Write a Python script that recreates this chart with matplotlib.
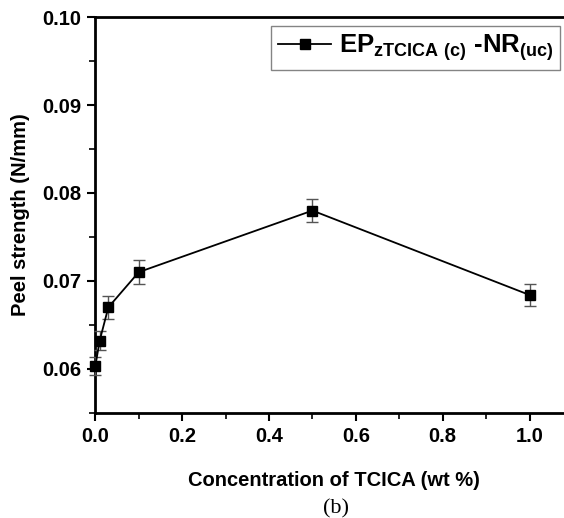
import matplotlib.pyplot as plt
from matplotlib.lines import Line2D
from matplotlib.ticker import MultipleLocator

# TCICA concentration (wt %) and peel strength (N/mm)
conc = [0.0, 0.01, 0.03, 0.1, 0.5, 1.0]
peel = [0.0603, 0.0632, 0.0670, 0.0710, 0.0780, 0.0684]
peel_err = [0.0010, 0.0011, 0.0013, 0.0014, 0.0013, 0.0012]

plt.rcParams['font.family'] = 'Liberation Sans'
plt.rcParams['font.weight'] = 'bold'
plt.rcParams['mathtext.fontset'] = 'custom'
plt.rcParams['mathtext.bf'] = 'Liberation Sans:bold'
plt.rcParams['mathtext.rm'] = 'Liberation Sans:bold'
plt.rcParams['mathtext.default'] = 'bf'

fig = plt.figure(figsize=(5.64, 5.18), dpi=100)
ax = fig.add_axes([0.169, 0.203, 0.847, 0.764])

ax.errorbar(conc, peel, yerr=peel_err, color='black', marker='s', ms=7.5,
            lw=1.3, ecolor='#555555', elinewidth=1, capsize=4, capthick=1,
            clip_on=False, zorder=3)

ax.set_xlim(0, 1.1)
ax.set_ylim(0.055, 0.10)
ax.xaxis.set_major_locator(MultipleLocator(0.2))
ax.xaxis.set_minor_locator(MultipleLocator(0.1))
ax.yaxis.set_major_locator(MultipleLocator(0.01))
ax.yaxis.set_minor_locator(MultipleLocator(0.005))
ax.yaxis.set_major_formatter(plt.FormatStrFormatter('%.2f'))
ax.xaxis.set_major_formatter(plt.FormatStrFormatter('%.1f'))
ax.tick_params(which='major', direction='out', length=6, width=1.5, labelsize=14.5, pad=4)
ax.tick_params(which='minor', direction='out', length=4, width=1.2)
for s in ax.spines.values():
    s.set_linewidth(2)
ax.spines['right'].set_visible(False)

ax.set_xlabel('Concentration of TCICA (wt %)', fontsize=14.5, fontweight='bold', labelpad=18)
ax.set_ylabel('Peel strength (N/mm)', fontsize=14.5, fontweight='bold', labelpad=9)

handle = Line2D([], [], color='black', marker='s', ms=6.5, lw=1.3)
leg = ax.legend([handle], [r'EP$_{zTCICA\ (c)}$ -NR$_{(uc)}$'],
                loc='upper left', bbox_to_anchor=(0.368, 0.977), fontsize=18.5,
                frameon=True, fancybox=False, edgecolor='#666666',
                handlelength=2.1, borderpad=0.25, handletextpad=0.3,
                borderaxespad=0)
leg.get_frame().set_linewidth(1)

fig.text(0.596, 0.017, '(b)', family='Liberation Serif', fontweight='normal', fontsize=16,
         ha='center', va='center')

fig.savefig('out.png', dpi=100)
